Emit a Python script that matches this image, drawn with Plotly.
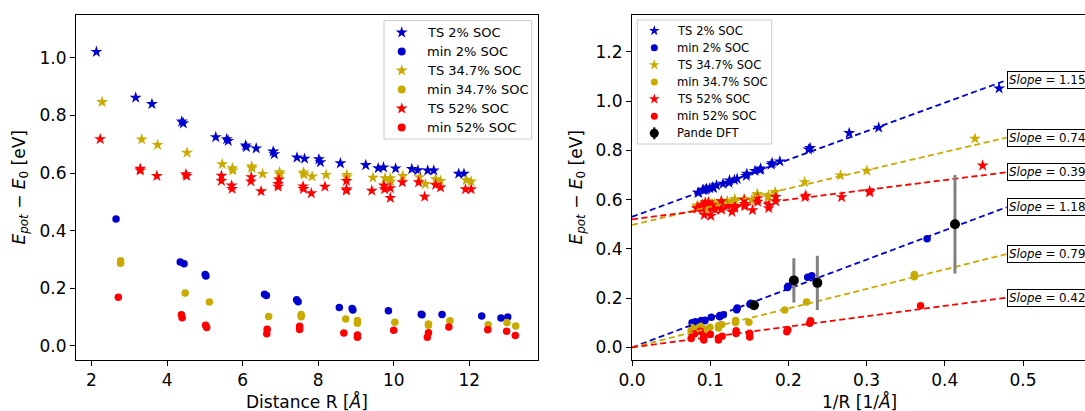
import plotly.graph_objects as go

# ---------------- data ----------------
# Left panel: energy vs distance R [Å]
ts2_R = [2.13, 3.17, 3.60, 4.39, 4.43, 5.29, 5.58, 5.62, 6.08, 6.10, 6.36, 6.81, 6.84, 7.44,
         7.64, 8.02, 8.06, 8.59, 9.26, 9.59, 9.73, 10.05, 10.48, 10.64, 10.90, 11.06, 11.72, 11.86]
ts2_E = [1.021, 0.862, 0.840, 0.779, 0.773, 0.725, 0.718, 0.712, 0.696, 0.690, 0.686, 0.675, 0.666, 0.654,
         0.650, 0.648, 0.638, 0.634, 0.628, 0.617, 0.620, 0.616, 0.614, 0.610, 0.609, 0.609, 0.598, 0.598]

min2_R = [2.65, 4.35, 4.45, 5.01, 5.03, 6.58, 6.63, 7.43, 7.47, 8.56, 8.90, 8.92, 9.86, 10.73,
          10.75, 11.28, 12.33, 12.84, 13.02]
min2_E = [0.441, 0.291, 0.285, 0.248, 0.243, 0.179, 0.175, 0.160, 0.153, 0.133, 0.130, 0.125, 0.122, 0.110,
          0.108, 0.109, 0.104, 0.097, 0.100]

ts34_R = [2.28, 3.33, 3.75, 4.53, 5.46, 5.73, 5.74, 6.24, 6.25, 6.53, 6.98, 6.98, 7.61, 7.63, 7.84,
          8.21, 8.76, 8.76, 9.45, 9.77, 9.91, 9.92, 10.24, 10.68, 10.84, 11.11, 11.24, 11.92, 12.05]
ts34_E = [0.847, 0.717, 0.698, 0.671, 0.631, 0.617, 0.609, 0.623, 0.617, 0.597, 0.603, 0.596, 0.602, 0.595, 0.588,
          0.594, 0.594, 0.586, 0.584, 0.582, 0.582, 0.571, 0.590, 0.586, 0.562, 0.579, 0.573, 0.576, 0.571]

min34_R = [2.77, 2.77, 4.48, 5.12, 6.69, 7.55, 7.55, 8.73, 9.04, 9.04, 10.03, 10.92, 10.92, 11.49,
           12.50, 13.00, 13.23]
min34_E = [0.296, 0.287, 0.184, 0.152, 0.102, 0.109, 0.101, 0.093, 0.088, 0.079, 0.082, 0.076, 0.072, 0.087,
           0.073, 0.081, 0.069]

ts52_R = [2.23, 3.29, 3.29, 3.73, 4.50, 4.52, 5.44, 5.44, 5.71, 5.72, 6.23, 6.22, 6.49, 6.96, 6.94,
          6.94, 7.60, 7.61, 7.82, 8.18, 8.75, 8.75, 8.75, 9.42, 9.74, 9.76, 9.91, 9.91, 10.23, 10.66,
          10.82, 11.11, 11.24, 11.90, 12.05]
ts52_E = [0.718, 0.615, 0.609, 0.590, 0.596, 0.590, 0.591, 0.573, 0.557, 0.545, 0.586, 0.571, 0.537, 0.578, 0.562,
          0.553, 0.554, 0.545, 0.530, 0.553, 0.573, 0.544, 0.539, 0.539, 0.557, 0.544, 0.548, 0.514, 0.568, 0.568,
          0.518, 0.559, 0.550, 0.544, 0.544]

min52_R = [2.71, 4.38, 4.40, 5.02, 5.05, 6.65, 6.64, 7.51, 7.51, 8.68, 9.04, 9.04, 10.00, 10.92,
           10.89, 11.46, 12.49, 12.99, 13.22]
min52_E = [0.169, 0.108, 0.098, 0.072, 0.064, 0.058, 0.042, 0.068, 0.057, 0.045, 0.038, 0.030, 0.054, 0.046,
           0.030, 0.066, 0.056, 0.051, 0.036]

# Right panel: TS energies as plotted there (same R values as the left panel)
ts2_E_right = [1.051, 0.892, 0.870, 0.809, 0.803, 0.755, 0.748, 0.742, 0.726, 0.720, 0.716, 0.705, 0.696, 0.684,
               0.680, 0.678, 0.668, 0.664, 0.658, 0.647, 0.650, 0.646, 0.644, 0.640, 0.639, 0.639, 0.628, 0.628]
ts34_E_right = ts34_E
ts52_E_right = [0.738, 0.635, 0.629, 0.610, 0.616, 0.610, 0.611, 0.593, 0.577, 0.565, 0.606, 0.591, 0.557, 0.598, 0.582,
                0.573, 0.574, 0.565, 0.550, 0.573, 0.593, 0.564, 0.559, 0.559, 0.577, 0.564, 0.568, 0.534, 0.588, 0.588,
                0.538, 0.579, 0.570, 0.564, 0.564]

# Linear fits shown on the right panel (order: TS2, TS34.7, TS52, min2, min34.7, min52)
fit_slopes = [1.158, 0.740, 0.398, 1.188, 0.791, 0.422]
fit_intercepts = [0.530, 0.497, 0.520, 0.0, 0.0, 0.0]
fit_x_end = 0.479

# Pande DFT reference points (1/R, energy, error)
pande_invR = [0.156, 0.207, 0.237, 0.413]
pande_E = [0.171, 0.272, 0.262, 0.500]
pande_err = [0.0, 0.09, 0.11, 0.20]

labels = ["TS 2% SOC", "min 2% SOC", "TS 34.7% SOC", "min 34.7% SOC", "TS 52% SOC", "min 52% SOC"]
pande_label = "Pande DFT"

# ---------------- styling / geometry ----------------
BLUE = "#0000CD"
YEL = "#C8AA00"
RED = "#FF0000"
FONT = "DejaVu Sans"
FW, FH = 1085, 411

def PX(sx):
    return sx / FW

def PY(sy):
    return 1 - sy / FH

# axis boxes in screen pixels
L_X0, L_X1 = 76, 538
R_X0 = 632
Y_TOP, Y_BOT = 15, 360
L_XR = [1.59, 13.82]
L_YR = [-0.049, 1.149]
R_XR = [0.0, (FW - R_X0) / 782]
R_YR = [-0.051, 1.349]

def left_data(sx, sy):
    x = L_XR[0] + (sx - L_X0) * (L_XR[1] - L_XR[0]) / (L_X1 - L_X0)
    y = L_YR[1] - (sy - Y_TOP) * (L_YR[1] - L_YR[0]) / (Y_BOT - Y_TOP)
    return x, y

def right_data(sx, sy):
    x = R_XR[0] + (sx - R_X0) * (R_XR[1] - R_XR[0]) / (FW - R_X0)
    y = R_YR[1] - (sy - Y_TOP) * (R_YR[1] - R_YR[0]) / (Y_BOT - Y_TOP)
    return x, y

STAR, CIRC = 9, 7.5
fig = go.Figure()

left_series = [
    (labels[0], ts2_R, ts2_E, BLUE, "star"),
    (labels[1], min2_R, min2_E, BLUE, "circle"),
    (labels[2], ts34_R, ts34_E, YEL, "star"),
    (labels[3], min34_R, min34_E, YEL, "circle"),
    (labels[4], ts52_R, ts52_E, RED, "star"),
    (labels[5], min52_R, min52_E, RED, "circle"),
]
for name, R, E, col, sym in left_series:
    fig.add_trace(go.Scatter(
        x=R, y=E, mode="markers", name=name, xaxis="x", yaxis="y", showlegend=False,
        marker=dict(color=col, symbol=sym, size=STAR if sym == "star" else CIRC, line=dict(width=0)),
    ))

right_series = [
    (labels[0], ts2_R, ts2_E_right, BLUE, "star"),
    (labels[1], min2_R, min2_E, BLUE, "circle"),
    (labels[2], ts34_R, ts34_E_right, YEL, "star"),
    (labels[3], min34_R, min34_E, YEL, "circle"),
    (labels[4], ts52_R, ts52_E_right, RED, "star"),
    (labels[5], min52_R, min52_E, RED, "circle"),
]
for name, R, E, col, sym in right_series:
    fig.add_trace(go.Scatter(
        x=[1.0 / r for r in R], y=E, mode="markers", name=name, xaxis="x2", yaxis="y2", showlegend=False,
        marker=dict(color=col, symbol=sym, size=STAR if sym == "star" else CIRC, line=dict(width=0)),
    ))

fit_colors = [BLUE, YEL, RED, BLUE, YEL, RED]
for m, b, col in zip(fit_slopes, fit_intercepts, fit_colors):
    fig.add_trace(go.Scatter(
        x=[0.0, fit_x_end], y=[b, b + m * fit_x_end], mode="lines", showlegend=False,
        xaxis="x2", yaxis="y2", line=dict(color=col, width=1.8, dash="6px,3.5px"),
    ))
    fig.add_annotation(
        x=fit_x_end, y=b + m * fit_x_end, xref="x2", yref="y2", xanchor="left", yanchor="middle",
        text="<i>Slope</i> = %.3f" % m, showarrow=False, font=dict(family=FONT, size=11.8, color="black"),
        bgcolor="white", bordercolor="black", borderwidth=1, borderpad=1,
    )

fig.add_trace(go.Scatter(
    x=pande_invR, y=pande_E, mode="markers", name=pande_label, xaxis="x2", yaxis="y2", showlegend=False,
    marker=dict(color="black", size=10, line=dict(width=0)),
    error_y=dict(type="data", array=pande_err, color="#808080", thickness=3, width=0),
))

# ---------------- legends (drawn inside the axes) ----------------
def draw_legend(x0, x1, y0, y1, first, step, mx, tx, fsize, entries, xref, yref, conv):
    bx0, by0 = conv(x0, y1)
    bx1, by1 = conv(x1, y0)
    fig.add_shape(type="rect", xref=xref, yref=yref, x0=bx0, x1=bx1, y0=by0, y1=by1,
                  fillcolor="white", line=dict(color="#cccccc", width=1), layer="below")
    for i, (nm, col, sym, size) in enumerate(entries):
        sy = first + i * step
        dx, dy = conv(mx, sy)
        fig.add_trace(go.Scatter(x=[dx], y=[dy], mode="markers", xaxis=xref, yaxis=yref, showlegend=False,
                                 hoverinfo="skip",
                                 marker=dict(color=col, symbol=sym, size=size, opacity=1, line=dict(width=0))))
        fig.add_annotation(x=PX(tx), y=PY(sy), xref="paper", yref="paper", text=nm, showarrow=False,
                           xanchor="left", yanchor="middle", font=dict(family=FONT, size=fsize, color="black"))

leg_colors = [BLUE, BLUE, YEL, YEL, RED, RED]
leg_syms = ["star", "circle", "star", "circle", "star", "circle"]

left_entries = [(n, c, s, 9 if s == "star" else 8) for n, c, s in zip(labels, leg_colors, leg_syms)]
draw_legend(384, 531.7, 20.7, 139, 32.5, 19.0, 401.7, 425, 13, left_entries, "x", "y", left_data)

# error-bar stroke of the Pande DFT legend symbol (drawn before its marker)
_px, _py = right_data(654.3, 30.7 + 6 * 17.1)
right_entries = [(n, c, s, 8 if s == "star" else 7) for n, c, s in zip(labels, leg_colors, leg_syms)]
draw_legend(637.3, 771.7, 20, 144, 30.7, 17.1, 654.3, 675, 11.6, right_entries, "x2", "y2", right_data)
fig.add_trace(go.Scatter(x=[_px], y=[_py], mode="markers", xaxis="x2", yaxis="y2", showlegend=False,
                         hoverinfo="skip", marker=dict(color="black", size=9, line=dict(width=0)),
                         error_y=dict(type="constant", value=6 * (R_YR[1] - R_YR[0]) / (Y_BOT - Y_TOP),
                                      color="#333333", thickness=2.5, width=0)))
fig.add_annotation(x=PX(675), y=PY(30.7 + 6 * 17.1), xref="paper", yref="paper", text=pande_label,
                   showarrow=False, xanchor="left", yanchor="middle", font=dict(family=FONT, size=11.6, color="black"))

# ---------------- axes ----------------
axis_common = dict(showline=True, linecolor="black", linewidth=1, ticks="outside", ticklen=5, tickwidth=1,
                   tickcolor="black", showgrid=False, zeroline=False, automargin=False,
                   tickfont=dict(family=FONT, size=17, color="black"))

y_dom = [PY(Y_BOT), PY(Y_TOP)]
fig.update_layout(
    width=FW, height=FH, margin=dict(l=0, r=0, t=0, b=0), autosize=False,
    paper_bgcolor="white", plot_bgcolor="white", showlegend=False, hovermode=False,
    font=dict(family=FONT, color="black"),
    xaxis=dict(domain=[PX(L_X0), PX(L_X1)], range=L_XR, anchor="y", mirror=True,
               tick0=2, dtick=2, **axis_common),
    yaxis=dict(domain=y_dom, range=L_YR, anchor="x", mirror=True,
               tick0=0, dtick=0.2, tickformat=".1f", **axis_common),
    xaxis2=dict(domain=[PX(R_X0), 1.0], range=R_XR, anchor="y2", mirror=True,
                tick0=0, dtick=0.1, tickformat=".1f", **axis_common),
    yaxis2=dict(domain=y_dom, range=R_YR, anchor="x2", mirror=False,
                tick0=0, dtick=0.2, tickformat=".1f", **axis_common),
)

ytitle = "<i>E<sub>pot</sub></i> \u2212 <i>E</i><sub>0</sub> [eV]"
for sx in (20, 577):
    fig.add_annotation(x=PX(sx), y=PY(187.5), xref="paper", yref="paper", text=ytitle,
                       textangle=-90, showarrow=False, xanchor="center", yanchor="middle",
                       font=dict(family=FONT, size=17, color="black"))
fig.add_annotation(x=PX(307), y=PY(401), xref="paper", yref="paper", text="Distance R [<i>\u00c5</i>]",
                   showarrow=False, xanchor="center", yanchor="middle", font=dict(family=FONT, size=17, color="black"))
fig.add_annotation(x=PX(859), y=PY(401), xref="paper", yref="paper", text="1/R [1/<i>\u00c5</i>]",
                   showarrow=False, xanchor="center", yanchor="middle", font=dict(family=FONT, size=17, color="black"))

fig.write_html(
    "out.html",
    config={"displayModeBar": False, "staticPlot": True},
    post_script="document.body.style.margin='0';document.body.style.overflow='hidden';"
                "document.documentElement.style.overflow='hidden';",
)
